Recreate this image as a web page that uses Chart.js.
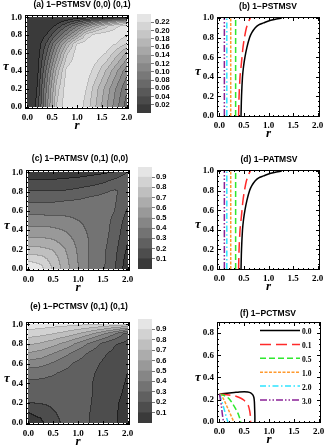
<!DOCTYPE html>
<html>
<head>
<meta charset="utf-8">
<title>1-PSTMSV / 1-PATMSV / 1-PCTMSV</title>
<script src="https://cdn.jsdelivr.net/npm/chart.js@4.4.1/dist/chart.umd.min.js"></script>
<style>
  html, body { margin: 0; padding: 0; background: #fff; }
  #page { position: relative; width: 324px; height: 445px; overflow: hidden; }
  #page canvas { position: absolute; left: 0; top: 0; }
</style>
</head>
<body>
<div id="page">
  <canvas id="chartA" width="324" height="445"></canvas>
  <canvas id="barA" width="324" height="445"></canvas>
  <canvas id="chartB" width="324" height="445"></canvas>
  <canvas id="chartC" width="324" height="445"></canvas>
  <canvas id="barC" width="324" height="445"></canvas>
  <canvas id="chartD" width="324" height="445"></canvas>
  <canvas id="chartE" width="324" height="445"></canvas>
  <canvas id="barE" width="324" height="445"></canvas>
  <canvas id="chartF" width="324" height="445"></canvas>
</div>
<script>
const W = 324
const H = 445

// axis ticks
const rTicks = [0, 0.5, 1, 1.5, 2]
const tauTicks = [0, 0.2, 0.4, 0.6, 0.8, 1]
const tauTicksF = [0, 0.2, 0.4, 0.6, 0.8]

// (a) contour values, rows = tau, columns = r
const aR = [0, 0.2, 0.4, 0.6, 0.8, 1.0, 1.2, 1.4, 1.6, 1.8, 2.0]
const aTau = [0, 0.2, 0.4, 0.6, 0.7, 0.8, 0.9, 0.95, 1.0]
const aZ = [
  [0, 0.024, 0.113, 0.202, 0.235, 0.236, 0.212, 0.178, 0.143, 0.108, 0.072],
  [0, 0.020, 0.105, 0.190, 0.232, 0.236, 0.220, 0.186, 0.152, 0.118, 0.085],
  [0, 0.010, 0.088, 0.168, 0.226, 0.236, 0.232, 0.210, 0.178, 0.145, 0.110],
  [0, 0.006, 0.060, 0.128, 0.196, 0.228, 0.234, 0.232, 0.220, 0.190, 0.160],
  [0, 0.004, 0.045, 0.105, 0.163, 0.221, 0.232, 0.234, 0.232, 0.220, 0.200],
  [0, 0.002, 0.021, 0.062, 0.105, 0.150, 0.210, 0.228, 0.232, 0.232, 0.224],
  [0, 0, 0.004, 0.026, 0.060, 0.095, 0.130, 0.165, 0.195, 0.217, 0.226],
  [0, 0, 0.001, 0.008, 0.026, 0.048, 0.072, 0.098, 0.124, 0.148, 0.170],
  [0, 0, 0, 0, 0, 0, 0, 0, 0, 0, 0]
]
const aLevels = [0.02, 0.04, 0.06, 0.08, 0.10, 0.12, 0.14, 0.16, 0.18, 0.20, 0.22]

// (c) contour values
const cR = [0, 0.25, 0.5, 0.75, 1.0, 1.25, 1.5, 1.75, 2.0]
const cTau = [0, 0.1, 0.2, 0.3, 0.4, 0.5, 0.6, 0.7, 0.8, 0.9, 1.0]
const cZ = [
  [1.00, 0.94, 0.79, 0.65, 0.51, 0.39, 0.32, 0.21, 0.04],
  [0.86, 0.84, 0.76, 0.63, 0.50, 0.39, 0.33, 0.22, 0.06],
  [0.725, 0.72, 0.69, 0.60, 0.49, 0.39, 0.33, 0.23, 0.09],
  [0.62, 0.62, 0.60, 0.55, 0.47, 0.39, 0.34, 0.25, 0.11],
  [0.53, 0.53, 0.52, 0.49, 0.44, 0.38, 0.34, 0.27, 0.13],
  [0.445, 0.445, 0.44, 0.43, 0.40, 0.37, 0.34, 0.28, 0.16],
  [0.36, 0.36, 0.36, 0.36, 0.36, 0.35, 0.34, 0.30, 0.19],
  [0.285, 0.285, 0.29, 0.30, 0.31, 0.33, 0.33, 0.31, 0.23],
  [0.21, 0.205, 0.205, 0.21, 0.23, 0.26, 0.29, 0.31, 0.27],
  [0.118, 0.115, 0.115, 0.12, 0.13, 0.15, 0.18, 0.24, 0.30],
  [0.05, 0.05, 0.05, 0.06, 0.06, 0.07, 0.08, 0.10, 0.20]
]

// (e) contour values
const eR = [0, 0.25, 0.5, 0.75, 1.0, 1.25, 1.5, 1.75, 2.0]
const eTau = [0, 0.1, 0.2, 0.3, 0.4, 0.5, 0.6, 0.7, 0.8, 0.9, 1.0]
const eZ = [
  [0.05, 0.08, 0.17, 0.22, 0.24, 0.20, 0.16, 0.11, 0.06],
  [0.10, 0.13, 0.19, 0.23, 0.24, 0.20, 0.16, 0.11, 0.07],
  [0.20, 0.21, 0.22, 0.24, 0.24, 0.205, 0.16, 0.11, 0.08],
  [0.25, 0.25, 0.25, 0.25, 0.245, 0.21, 0.16, 0.115, 0.09],
  [0.28, 0.28, 0.27, 0.26, 0.25, 0.21, 0.16, 0.12, 0.095],
  [0.34, 0.33, 0.31, 0.28, 0.26, 0.22, 0.17, 0.13, 0.10],
  [0.46, 0.44, 0.39, 0.33, 0.28, 0.24, 0.19, 0.14, 0.12],
  [0.59, 0.56, 0.50, 0.43, 0.35, 0.28, 0.22, 0.17, 0.14],
  [0.72, 0.69, 0.64, 0.57, 0.48, 0.38, 0.28, 0.21, 0.17],
  [0.85, 0.83, 0.80, 0.76, 0.70, 0.62, 0.52, 0.40, 0.25],
  [0.97, 0.96, 0.95, 0.94, 0.93, 0.92, 0.90, 0.88, 0.85]
]
const ceLevels = [0.1, 0.2, 0.3, 0.4, 0.5, 0.6, 0.7, 0.8, 0.9]

// (b) and (d) curves, r against tau
const bdR00 = [0.44, 0.45, 0.47, 0.49, 0.52, 0.56, 0.615, 0.66, 0.73, 0.80, 0.90, 1.00, 1.12, 1.27]
const bdT00 = [0, 0.2, 0.4, 0.5, 0.6, 0.7, 0.8, 0.85, 0.9, 0.93, 0.95, 0.97, 0.985, 1.0]
const bdR01 = [0.39, 0.40, 0.42, 0.44, 0.46, 0.48, 0.51, 0.55, 0.60, 0.63]
const bdT01 = [0, 0.2, 0.4, 0.5, 0.6, 0.7, 0.8, 0.9, 0.97, 1.0]
const bdR05 = [0.33, 0.33]
const bdR10 = [0.23, 0.23]
const bdR20 = [0.15, 0.15]
const bdR30 = [0.10, 0.10]
const bdTfull = [0, 1]

// (f) curves
const fR00 = [0, 0.1, 0.2, 0.3, 0.4, 0.5, 0.57, 0.63, 0.67, 0.695, 0.705, 0.71, 0.715, 0.715]
const fT00 = [0.25, 0.255, 0.26, 0.265, 0.27, 0.272, 0.27, 0.262, 0.245, 0.22, 0.18, 0.12, 0.05, 0]
const fR01 = [0, 0.15, 0.3, 0.4, 0.48, 0.54, 0.58, 0.61, 0.625, 0.63]
const fT01 = [0.25, 0.245, 0.235, 0.22, 0.2, 0.175, 0.15, 0.1, 0.05, 0]
const fR05 = [0, 0.08, 0.15, 0.21, 0.27, 0.33, 0.38, 0.41, 0.43]
const fT05 = [0.25, 0.24, 0.225, 0.2, 0.16, 0.115, 0.07, 0.03, 0]
const fR10 = [0, 0.04, 0.09, 0.14, 0.19, 0.24, 0.29]
const fT10 = [0.25, 0.235, 0.2, 0.15, 0.1, 0.05, 0]
const fR20 = [0, 0.03, 0.07, 0.11, 0.14, 0.17]
const fT20 = [0.25, 0.21, 0.15, 0.09, 0.04, 0]
const fR30 = [0, 0.02, 0.04, 0.055, 0.07, 0.085]
const fT30 = [0.25, 0.2, 0.14, 0.08, 0.03, 0]
const fLegend = ['0.0', '0.1', '0.5', '1.0', '2.0', '3.0']

// styles
const serif = '"Liberation Serif", "Times New Roman", serif'
const sans = '"Liberation Sans", Arial, sans-serif'
const tickFont = { family: serif, size: 9, weight: 'bold' }
const grays12 = [58, 74, 89, 105, 120, 136, 151, 167, 182, 198, 213, 229]
const grays10 = [58, 77, 96, 115, 134, 153, 172, 191, 210, 229]
const curveStyles = [
  { color: '#000000', dash: [] },
  { color: '#ff2a2a', dash: [11, 5] },
  { color: '#2ee82e', dash: [6, 3] },
  { color: '#ff9a2e', dash: [3, 1.5] },
  { color: '#2ee4ff', dash: [6, 2.5, 1.5, 2.5] },
  { color: '#8a2296', dash: [7, 2, 1.5, 2, 1.5, 2] }
]

/**
 * Find the grid cell that holds a value.
 *
 * @param {number[]} arr - Sorted grid coordinates.
 * @param {number} v - The value.
 * @returns {number[]} Cell index and fraction inside it.
 */
function locate (arr, v) {
  let i = 0
  while (i < arr.length - 2 && v > arr[i + 1]) i++
  const f = (v - arr[i]) / (arr[i + 1] - arr[i])
  return [i, Math.min(1, Math.max(0, f))]
}

/**
 * Read a value from a contour grid.
 */
function sampleGrid (rs, ts, z, r, t) {
  const [i, fx] = locate(rs, r)
  const [j, fy] = locate(ts, t)
  const lo = z[j][i] * (1 - fx) + z[j][i + 1] * fx
  const hi = z[j + 1][i] * (1 - fx) + z[j + 1][i + 1] * fx
  return lo * (1 - fy) + hi * fy
}

/**
 * Plugin that paints the banded contour image through the chart scales.
 */
function contourFill (rs, ts, z, step, grays) {
  return {
    id: 'contourFill',
    beforeDatasetsDraw (chart) {
      const { ctx, scales: { x, y } } = chart
      const x0 = Math.round(x.getPixelForValue(rs[0]))
      const x1 = Math.round(x.getPixelForValue(rs[rs.length - 1]))
      const y0 = Math.round(y.getPixelForValue(ts[ts.length - 1]))
      const y1 = Math.round(y.getPixelForValue(ts[0]))
      const w = x1 - x0
      const h = y1 - y0
      const band = new Int16Array(w * h)
      for (let j = 0; j < h; j++) {
        const t = y.getValueForPixel(y0 + j + 0.5)
        for (let i = 0; i < w; i++) {
          const r = x.getValueForPixel(x0 + i + 0.5)
          const v = sampleGrid(rs, ts, z, r, t)
          band[j * w + i] = Math.min(grays.length - 1, Math.max(0, Math.floor(v / step)))
        }
      }
      const img = ctx.createImageData(w, h)
      for (let k = 0; k < w * h; k++) {
        const i = k % w
        const j = Math.floor(k / w)
        let g = grays[band[k]]
        const edge = (i + 1 < w && band[k + 1] !== band[k]) || (j + 1 < h && band[k + w] !== band[k])
        if (edge) g = Math.max(0, Math.min(g, grays[band[k + 1]] || g, grays[band[k + w]] || g) - 28)
        img.data[k * 4] = g
        img.data[k * 4 + 1] = g
        img.data[k * 4 + 2] = g
        img.data[k * 4 + 3] = 255
      }
      ctx.putImageData(img, x0, y0)
    }
  }
}

/**
 * Plugin for the frame with inward ticks on every side.
 */
function frame (yTop) {
  return {
    id: 'frame',
    afterDatasetsDraw (chart) {
      const { ctx, chartArea: a, scales: { x, y } } = chart
      ctx.save()
      ctx.strokeStyle = '#000'
      ctx.lineWidth = 1
      ctx.beginPath()
      for (let k = 0; k <= 20; k++) {
        const px = Math.round(x.getPixelForValue(k / 10)) + 0.5
        const len = k % 5 === 0 ? 4 : 2
        ctx.moveTo(px, a.bottom); ctx.lineTo(px, a.bottom - len)
        ctx.moveTo(px, a.top); ctx.lineTo(px, a.top + len)
      }
      for (let k = 0; k * 0.05 <= yTop + 1e-9; k++) {
        const py = Math.round(y.getPixelForValue(k * 0.05)) + 0.5
        const len = k % 4 === 0 ? 4 : 2
        ctx.moveTo(a.left, py); ctx.lineTo(a.left + len, py)
        ctx.moveTo(a.right, py); ctx.lineTo(a.right - len, py)
      }
      ctx.stroke()
      ctx.strokeRect(a.left + 0.5, a.top + 0.5, a.right - a.left - 1, a.bottom - a.top - 1)
      ctx.restore()
    }
  }
}

/**
 * Plugin for panel title and the r / tau axis names.
 */
function decor (title, titleX, titleY, tauAt) {
  return {
    id: 'decor',
    afterDraw (chart) {
      const { ctx, chartArea: a, scales: { y } } = chart
      ctx.save()
      ctx.fillStyle = '#000'
      ctx.textAlign = 'center'
      ctx.textBaseline = 'middle'
      ctx.font = `bold 8.5px ${sans}`
      ctx.fillText(title, titleX, titleY)
      ctx.font = `italic bold 13px ${serif}`
      ctx.fillText('r', (a.left + a.right) / 2, a.bottom + 17)
      ctx.fillText('τ', a.left - 19, y.getPixelForValue(tauAt))
      ctx.restore()
    }
  }
}

// legend inside panel (f)
const legendF = {
  id: 'legendF',
  afterDatasetsDraw (chart) {
    const { ctx, chartArea: a } = chart
    ctx.save()
    fLegend.forEach((label, i) => {
      const yy = a.top + 8.5 + i * 13.9
      ctx.strokeStyle = curveStyles[i].color
      ctx.lineWidth = 1.5
      ctx.setLineDash(curveStyles[i].dash)
      ctx.beginPath()
      ctx.moveTo(a.left + 43, yy)
      ctx.lineTo(a.left + 83, yy)
      ctx.stroke()
      ctx.setLineDash([])
      ctx.fillStyle = '#000'
      ctx.font = `bold 7.5px ${serif}`
      ctx.textAlign = 'left'
      ctx.textBaseline = 'middle'
      ctx.fillText(label, a.left + 85, yy + 2)
    })
    ctx.restore()
  }
}

function points (rs, ts) {
  return rs.map((r, i) => ({ x: r, y: ts[i] }))
}

function lineSet (rs, ts, style) {
  return {
    data: points(rs, ts),
    showLine: true,
    borderColor: style.color,
    borderWidth: 1.5,
    borderDash: style.dash,
    pointRadius: 0,
    tension: 0.3,
    fill: false
  }
}

function panelOptions (box, yRange, yTicks) {
  return {
    responsive: false,
    animation: false,
    events: [],
    devicePixelRatio: 1,
    layout: { padding: { left: box[0] - 24, top: box[1], right: W - box[2], bottom: H - box[3] - 24 } },
    scales: {
      x: {
        type: 'linear',
        min: -0.05,
        max: 2.05,
        grid: { display: false, drawTicks: false },
        border: { display: false },
        afterFit: s => { s.height = 24; s.paddingLeft = 0; s.paddingRight = 0 },
        afterBuildTicks: s => { s.ticks = rTicks.map(v => ({ value: v })) },
        ticks: { font: tickFont, color: '#000', padding: 3, autoSkip: false, maxRotation: 0, callback: v => v.toFixed(1) }
      },
      y: {
        type: 'linear',
        min: yRange[0],
        max: yRange[1],
        grid: { display: false, drawTicks: false },
        border: { display: false },
        afterFit: s => { s.width = 24; s.paddingTop = 0; s.paddingBottom = 0 },
        afterBuildTicks: s => { s.ticks = yTicks.map(v => ({ value: v })) },
        ticks: { font: tickFont, color: '#000', padding: 3, autoSkip: false, callback: v => v.toFixed(1) }
      }
    },
    plugins: { legend: { display: false }, tooltip: { enabled: false }, title: { display: false } }
  }
}

function contourPanel (id, box, title, titleX, titleY, rs, ts, z, step, grays) {
  return new Chart(document.getElementById(id), {
    type: 'scatter',
    data: { datasets: [] },
    options: panelOptions(box, [-0.025, 1.025], tauTicks),
    plugins: [contourFill(rs, ts, z, step, grays), frame(1), decor(title, titleX, titleY, 0.45)]
  })
}

function colorbar (id, box, levels, grays, step, digits) {
  const datasets = grays.map(g => ({
    data: [step],
    backgroundColor: `rgb(${g},${g},${g})`,
    borderWidth: 0,
    barPercentage: 1,
    categoryPercentage: 1
  }))
  return new Chart(document.getElementById(id), {
    type: 'bar',
    data: { labels: [''], datasets },
    options: {
      responsive: false,
      animation: false,
      events: [],
      devicePixelRatio: 1,
      layout: { padding: { left: box[0], top: box[1], right: W - box[2] - 26, bottom: H - box[3] } },
      scales: {
        x: { stacked: true, display: false },
        y: {
          stacked: true,
          position: 'right',
          min: 0,
          max: step * grays.length,
          afterFit: s => { s.width = 26; s.paddingTop = 0; s.paddingBottom = 0 },
          afterBuildTicks: s => { s.ticks = levels.map(v => ({ value: v })) },
          grid: { drawOnChartArea: false, drawTicks: true, tickLength: 3, color: '#777' },
          border: { display: false },
          ticks: { font: { family: sans, size: 7.5, weight: 'bold' }, color: '#000', padding: 1, autoSkip: false, callback: v => v.toFixed(digits) }
        }
      },
      plugins: { legend: { display: false }, tooltip: { enabled: false } }
    }
  })
}

function curvePanel (id, box, title, titleX, titleY, yRange, yTicks, sets, extra) {
  return new Chart(document.getElementById(id), {
    type: 'scatter',
    data: { datasets: sets },
    options: panelOptions(box, yRange, yTicks),
    plugins: [frame(yRange[1]), decor(title, titleX, titleY, yTicks === tauTicksF ? 0.4 : 0.45)].concat(extra)
  })
}

const bdSets = () => [
  lineSet(bdR30, bdTfull, curveStyles[5]),
  lineSet(bdR20, bdTfull, curveStyles[4]),
  lineSet(bdR10, bdTfull, curveStyles[3]),
  lineSet(bdR05, bdTfull, curveStyles[2]),
  lineSet(bdR01, bdT01, curveStyles[1]),
  lineSet(bdR00, bdT00, curveStyles[0])
]

const fSets = [
  lineSet(fR30, fT30, curveStyles[5]),
  lineSet(fR20, fT20, curveStyles[4]),
  lineSet(fR10, fT10, curveStyles[3]),
  lineSet(fR05, fT05, curveStyles[2]),
  lineSet(fR01, fT01, curveStyles[1]),
  lineSet(fR00, fT00, curveStyles[0])
]

contourPanel('chartA', [25, 15, 129, 109], '(a) 1−PSTMSV (0,0) (0,1)', 82, 5, aR, aTau, aZ, 0.02, grays12)
colorbar('barA', [137, 14, 151, 113], aLevels, grays12, 0.02, 2)
curvePanel('chartB', [217, 17, 320, 117], '(b) 1−PSTMSV', 268, 7, [-0.01, 1.01], tauTicks, bdSets(), [])

contourPanel('chartC', [26, 170, 130, 271], '(c) 1−PATMSV (0,1) (0,0)', 80, 159, cR, cTau, cZ, 0.1, grays10)
colorbar('barC', [138, 167, 152, 269], ceLevels, grays10, 0.1, 1)
curvePanel('chartD', [217, 170, 320, 270], '(d) 1−PATMSV', 269, 160, [-0.01, 1.01], tauTicks, bdSets(), [])

contourPanel('chartE', [26, 322, 130, 425], '(e) 1−PCTMSV (0,1) (0,1)', 79, 307, eR, eTau, eZ, 0.1, grays10)
colorbar('barE', [138, 319, 152, 423], ceLevels, grays10, 0.1, 1)
curvePanel('chartF', [217, 322, 321, 423], '(f) 1−PCTMSV', 268, 314, [-0.01, 0.9], tauTicksF, fSets, [legendF])
</script>
</body>
</html>
